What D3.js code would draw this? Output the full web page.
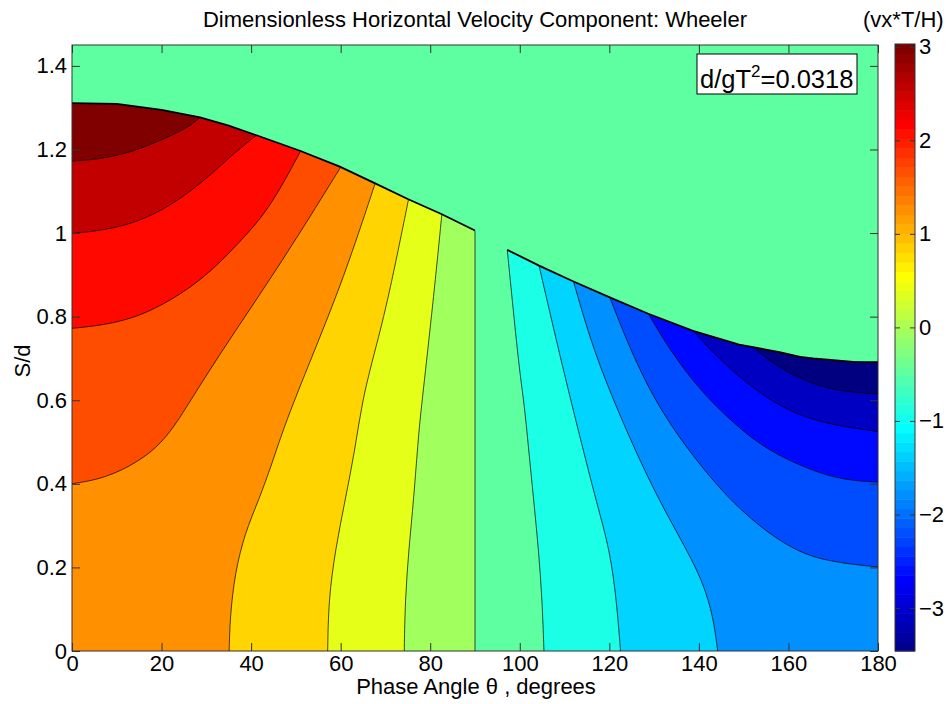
<!DOCTYPE html>
<html>
<head>
<meta charset="utf-8">
<script src="https://cdn.jsdelivr.net/npm/d3@7/dist/d3.min.js"></script>
<style>
  body { margin: 0; background: #fff; }
  text { font-family: "Liberation Sans", Arial, sans-serif; fill: #000; }
</style>
</head>
<body>
<svg id="chart" width="948" height="704"></svg>
<script>
// ---- data ----
const thetaTicks = [0, 20, 40, 60, 80, 100, 120, 140, 160, 180];
const sTicks = [0, 0.2, 0.4, 0.6, 0.8, 1, 1.2, 1.4];
const cbarTicks = [-3, -2, -1, 0, 1, 2, 3];

// colour limits of the colorbar and the value of each filled band (navy -> maroon)
const cLimits = [-3.46, 3.03];
const bandLevels = [-3.46, -3.03, -2.59, -2.16, -1.73, -1.30, -0.86, -0.43,
  0.00, 0.44, 0.87, 1.30, 1.73, 2.17, 2.60, 3.03];

// free surface S/d against phase angle
const surfTheta = [0, 10, 20, 28.6, 35, 41.2, 50.9, 59.8, 67.7, 75.1, 82.6, 90,
  97.2, 104.3, 112, 120.1, 128.7, 138.7, 149, 152.1, 158, 162.6, 165.5, 174.5, 180];
const surfS = [1.311, 1.309, 1.295, 1.277, 1.257, 1.234, 1.197, 1.159, 1.119, 1.081, 1.045, 1.006,
  0.960, 0.922, 0.884, 0.846, 0.807, 0.766, 0.733, 0.727, 0.715, 0.704, 0.700, 0.692, 0.691];

// contour lines [theta, S/d], positive side (start at bottom or left axis, end at surface)
const lineA = [[0, 1.172], [7.4, 1.178], [14.9, 1.199], [22.3, 1.234], [26.1, 1.254], [28.6, 1.277]];
const lineB = [[0, 0.999], [7.4, 1.007], [14.9, 1.027], [22.3, 1.067], [29.8, 1.127], [35.7, 1.187], [41.2, 1.234]];
const lineC = [[0, 0.772], [7.4, 0.780], [14.9, 0.800], [22.3, 0.840], [29.8, 0.895], [37.2, 0.975],
  [43.2, 1.047], [47.6, 1.127], [51, 1.195]];
const lineD = [[0, 0.400], [7.4, 0.413], [14.9, 0.453], [20, 0.497], [23.8, 0.553], [26.5, 0.600],
  [33, 0.710], [40, 0.822], [47, 0.935], [53.5, 1.045], [59.9, 1.156]];
const lineE = [[35.1, 0], [35.3, 0.082], [36.4, 0.187], [38.6, 0.282], [41.7, 0.361], [44.7, 0.449],
  [47.6, 0.545], [53.6, 0.704], [59.6, 0.864], [64, 0.999], [67.7, 1.119]];
const lineF = [[57.1, 0], [57.3, 0.122], [58.8, 0.242], [61, 0.361], [63.2, 0.481], [64.8, 0.600],
  [67.7, 0.720], [70.6, 0.840], [75.2, 1.083]];
const lineG = [[74.2, 0], [74.4, 0.122], [75.2, 0.242], [76.3, 0.361], [77.4, 0.521], [78.2, 0.600],
  [80.7, 0.840], [82.6, 1.045]];
const lineH = [[90, 0], [90, 1.006]];
// negative side (I, J, K from bottom to surface; L..O from right edge to surface)
const lineI = [[105.4, 0], [105, 0.122], [104.2, 0.242], [103.1, 0.361], [102, 0.481], [100.9, 0.600],
  [100, 0.664], [98.5, 0.820], [97.2, 0.960]];
const lineJ = [[122.5, 0], [121.6, 0.122], [120.1, 0.242], [117.2, 0.353], [113.4, 0.513], [109, 0.704], [104.3, 0.922]];
const lineK = [[144.2, 0], [143.2, 0.082], [141, 0.162], [137.3, 0.242], [129.8, 0.385], [122.4, 0.561],
  [116.4, 0.720], [112, 0.884]];
const lineL = [[180, 0.201], [168.5, 0.214], [161.1, 0.242], [153.6, 0.297], [146.2, 0.369], [138.7, 0.465],
  [131.3, 0.577], [125.3, 0.704], [120.1, 0.846]];
const lineM = [[180, 0.404], [172.2, 0.409], [164.8, 0.433], [155.1, 0.481], [147.7, 0.545], [140.2, 0.624],
  [133.5, 0.720], [128.7, 0.807]];
const lineN = [[180, 0.525], [167, 0.545], [158.1, 0.584], [150.7, 0.640], [144, 0.704], [138.7, 0.766]];
const lineO = [[180, 0.615], [172.2, 0.620], [164.8, 0.640], [157.4, 0.680], [152.1, 0.727]];

// which band lies on the far side of each line
const leftContours = [[lineH, 8], [lineG, 9], [lineF, 10], [lineE, 11], [lineD, 12], [lineC, 13], [lineB, 14], [lineA, 15]];
const rightContours = [[lineI, 6], [lineJ, 5], [lineK, 4], [lineL, 3], [lineM, 2], [lineN, 1], [lineO, 0]];

// ---- drawing ----
const svg = d3.select("#chart");
const x = d3.scaleLinear().domain([0, 180]).range([72, 878]);
const y = d3.scaleLinear().domain([0, 1.45]).range([651, 45]);
const TOP = 1.45;

const jet = d3.scaleLinear()
  .domain([0, 0.125, 0.375, 0.625, 0.875, 1].map(f => cLimits[0] + f * (cLimits[1] - cLimits[0])))
  .range(["#000080", "#0000ff", "#00ffff", "#ffff00", "#ff0000", "#800000"])
  .clamp(true);

// background = the band that also covers the region above the surface
svg.append("rect")
  .attr("x", x(0)).attr("y", y(TOP))
  .attr("width", x(180) - x(0)).attr("height", y(0) - y(TOP))
  .attr("fill", jet(bandLevels[7]));

const surfPts = surfTheta.map((t, i) => [t, surfS[i]]);
svg.append("clipPath").attr("id", "water")
  .append("path")
  .attr("d", d3.area().x(d => x(d[0])).y0(y(0)).y1(d => y(d[1]))(surfPts));

// smoothing spline through the read points
const curve = d3.line().x(d => x(d[0])).y(d => y(d[1])).curve(d3.curveBasis);
const water = svg.append("g").attr("clip-path", "url(#water)");

function region(pts, corners) {
  return curve(pts) + corners.map(c => "L" + x(c[0]) + "," + y(c[1])).join("") + "Z";
}

leftContours.forEach(([pts, band]) => {
  const last = pts[pts.length - 1];
  water.append("path")
    .attr("d", region(pts, [[last[0], TOP], [0, TOP], [0, 0]]))
    .attr("fill", jet(bandLevels[band]));
});
rightContours.forEach(([pts, band]) => {
  const last = pts[pts.length - 1];
  water.append("path")
    .attr("d", region(pts, [[last[0], TOP], [180, TOP], [180, 0]]))
    .attr("fill", jet(bandLevels[band]));
});

leftContours.concat(rightContours).forEach(([pts]) => {
  water.append("path")
    .attr("d", curve(pts))
    .attr("fill", "none")
    .attr("stroke", "#000")
    .attr("stroke-width", 0.7);
});

// surface edge, broken where the gap band meets the air
const surfLine = d3.line().x(d => x(d[0])).y(d => y(d[1]));
[surfPts.filter(d => d[0] <= 90), surfPts.filter(d => d[0] >= 97.2)].forEach(part => {
  svg.append("path")
    .attr("d", surfLine(part))
    .attr("fill", "none")
    .attr("stroke", "#000")
    .attr("stroke-width", 1.8);
});

// axes
const fs = "22px";
const gx = svg.append("g").attr("transform", `translate(0,${y(0)})`)
  .call(d3.axisBottom(x).tickValues(thetaTicks).tickSizeInner(-8).tickSizeOuter(0).tickPadding(4));
const gy = svg.append("g").attr("transform", `translate(${x(0)},0)`)
  .call(d3.axisLeft(y).tickValues(sTicks).tickFormat(d3.format("~g")).tickSizeInner(-8).tickSizeOuter(0).tickPadding(5));
const gt = svg.append("g").attr("transform", `translate(0,${y(TOP)})`)
  .call(d3.axisTop(x).tickValues(thetaTicks).tickFormat("").tickSizeInner(-8).tickSizeOuter(0));
const gr = svg.append("g").attr("transform", `translate(${x(180)},0)`)
  .call(d3.axisRight(y).tickValues(sTicks).tickFormat("").tickSizeInner(-8).tickSizeOuter(0));
[gx, gy, gt, gr].forEach(g => {
  g.select(".domain").remove();
  g.selectAll("line").attr("stroke", "#333");
  g.selectAll("text").style("font-size", fs).attr("fill", "#000");
});
svg.append("rect")
  .attr("x", x(0)).attr("y", y(TOP))
  .attr("width", x(180) - x(0)).attr("height", y(0) - y(TOP))
  .attr("fill", "none").attr("stroke", "#333").attr("stroke-width", 1);

// texts
svg.append("text").attr("x", 475).attr("y", 27).attr("text-anchor", "middle")
  .style("font-size", fs).text("Dimensionless Horizontal Velocity Component: Wheeler");
svg.append("text").attr("x", 476).attr("y", 694).attr("text-anchor", "middle")
  .style("font-size", fs).text("Phase Angle \u03b8 , degrees");
svg.append("text").attr("transform", "translate(30,361) rotate(-90)").attr("text-anchor", "middle")
  .style("font-size", fs).text("S/d");
svg.append("text").attr("x", 863).attr("y", 27)
  .style("font-size", fs).text("(vx*T/H)");

// annotation box
svg.append("rect").attr("x", 697).attr("y", 54).attr("width", 160).attr("height", 40)
  .attr("fill", "#fff").attr("stroke", "#000").attr("stroke-width", 1);
const ann = svg.append("text").attr("x", 700).attr("y", 88).style("font-size", "25.5px");
ann.append("tspan").text("d/gT");
ann.append("tspan").attr("dy", -11).style("font-size", "17px").text("2");
ann.append("tspan").attr("dy", 11).text("=0.0318");

// colorbar
const cb = d3.scaleLinear().domain(cLimits).range([651, 44]);
const cbX0 = 895, cbX1 = 915;
const steps = d3.range(64);
const stepH = (cLimits[1] - cLimits[0]) / 64;
svg.append("g").selectAll("rect").data(steps).join("rect")
  .attr("x", cbX0).attr("width", cbX1 - cbX0)
  .attr("y", i => cb(cLimits[0] + (i + 1) * stepH))
  .attr("height", i => cb(cLimits[0] + i * stepH) - cb(cLimits[0] + (i + 1) * stepH) + 0.5)
  .attr("fill", i => jet(cLimits[0] + (i + 1) * stepH));
const gc = svg.append("g").attr("transform", `translate(${cbX1},0)`)
  .call(d3.axisRight(cb).tickValues(cbarTicks).tickFormat(d3.format("d")).tickSizeInner(-5).tickSizeOuter(0).tickPadding(4));
gc.select(".domain").remove();
gc.selectAll("line").attr("stroke", "#333");
gc.selectAll("text").style("font-size", fs).attr("fill", "#000");
svg.append("g").attr("transform", `translate(${cbX0},0)`)
  .call(d3.axisLeft(cb).tickValues(cbarTicks).tickFormat("").tickSizeInner(-5).tickSizeOuter(0))
  .call(g => g.select(".domain").remove())
  .selectAll("line").attr("stroke", "#333");
svg.append("rect").attr("x", cbX0).attr("y", 44).attr("width", cbX1 - cbX0).attr("height", 607)
  .attr("fill", "none").attr("stroke", "#333");
</script>
</body>
</html>
